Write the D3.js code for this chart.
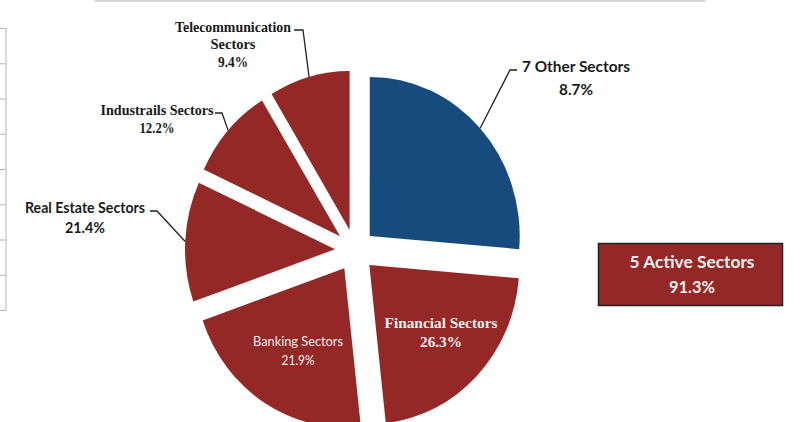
<!DOCTYPE html>
<html lang="en">
<head>
    <meta charset="UTF-8">
    <title>Sector shares - pie</title>
    <script src="https://d3js.org/d3.v7.min.js"></script>
    <style>
        html, body {
            margin: 0;
            background: #fff;
        }
        svg { display: block; }
    </style>
</head>
<body>
    <div id="vis"></div>
    <script>

        // data
        var sectors = ["7 Other Sectors", "Financial Sectors", "Banking Sectors",
                       "Real Estate Sectors", "Industrails Sectors", "Telecommunication Sectors"];
        var labelPct = ["8.7%", "26.3%", "21.9%", "21.4%", "12.2%", "9.4%"];
        // size of each drawn slice, clockwise from 12 o'clock
        var sliceShare = [26.3, 21.9, 21.4, 12.2, 9.4, 8.7];
        var activeName = "5 Active Sectors";
        var activePct = "91.3%";
        var axisTicks = [0, 1, 2, 3, 4, 5, 6, 7, 8];

        /*
         *  DECLARATION BLOCK
         */
        var width = 803, height = 422;
        var red = "#932826", blue = "#174b7d";
        var cx = 355, cy = 250.3, radius = 150, explode = 20, stretch = 1.06;

        var svg = d3.select("#vis")
            .append("svg")
                .attr("width", width)
                .attr("height", height);

        // leftover frame of the neighbouring chart
        svg.append("line")
            .attr("x1", 95).attr("x2", 705)
            .attr("y1", 1).attr("y2", 1)
            .attr("stroke", "#c8c8c8")
            .attr("stroke-width", 1.5);

        var y_scale = d3.scaleLinear()
            .domain([0, 8])
            .range([310, 28]);

        svg.append("g")
            .attr("transform", "translate(5.5,0)")
            .call(d3.axisLeft(y_scale).tickValues(axisTicks).tickSize(6).tickFormat(""))
            .call(function(g) {
                g.selectAll("path, line").attr("stroke", "#b4b4b4");
            });

        // the pie
        var pie = d3.pie().sort(null).value(function(d) { return d; });
        var arc = d3.arc().innerRadius(0).outerRadius(radius);
        var arcs = pie(sliceShare);

        var pieG = svg.append("g")
            .attr("transform", "translate(" + cx + "," + cy + ") scale(1," + stretch + ")");

        function mid(d) { return (d.startAngle + d.endAngle) / 2; }

        pieG.selectAll("path")
            .data(arcs)
            .enter().append("path")
                .attr("d", arc)
                .attr("fill", function(d, i) { return i === 0 ? blue : red; })
                .attr("transform", function(d) {
                    var a = mid(d);
                    return "translate(" + (Math.sin(a) * explode) + "," + (-Math.cos(a) * explode) + ")";
                });

        // point on the outer rim at the middle of a slice, in page coordinates
        function rimPoint(d) {
            var a = mid(d), r = radius + explode;
            return [cx + Math.sin(a) * r, cy - Math.cos(a) * r * stretch];
        }

        // label placement (Excel style, hand placed)
        var sansB = "Lato, 'Open Sans', sans-serif";
        var serif = "'Liberation Serif', 'DejaVu Serif', serif";
        var layout = [
            {x: 576, y: [72, 95], size: 16, font: sansB, weight: 700, fill: "#1a1a1a", w: [108, 34], elbow: [510, 70], end: [517, 70]},
            {x: 441, y: [328, 347], size: 15, font: serif, weight: 700, fill: "#f4eeee", w: [113, 42]},
            {x: 298, y: [346, 365], size: 13, font: sansB, weight: 400, fill: "#f4eeee", w: [90, 33]},
            {x: 85, y: [213, 233], size: 15, font: sansB, weight: 700, fill: "#1a1a1a", w: [120, 40], elbow: [157, 211], end: [150, 211]},
            {x: 157, y: [115, 133], size: 14, font: serif, weight: 700, fill: "#1a1a1a", w: [113, 35], elbow: [222, 113], end: [215, 113]},
            {x: 233, y: [32, 49, 67], size: 14.5, font: serif, weight: 700, fill: "#1a1a1a", w: [116, 45, 30], elbow: [303, 30], end: [294, 30], wrap: true}
        ];

        arcs.forEach(function(d, i) {
            var L = layout[i];
            var lines = L.wrap ? sectors[i].split(" ") : [sectors[i]];
            lines.push(labelPct[i]);

            if (L.elbow) {
                var p = rimPoint(d);
                svg.append("polyline")
                    .attr("points", [p, L.elbow, L.end].map(function(q) { return q.join(","); }).join(" "))
                    .attr("fill", "none")
                    .attr("stroke", "#222")
                    .attr("stroke-width", 1.3);
            }

            lines.forEach(function(t, j) {
                svg.append("text")
                    .attr("x", L.x)
                    .attr("y", L.y[j])
                    .attr("text-anchor", "middle")
                    .attr("font-family", L.font)
                    .attr("font-weight", L.weight)
                    .attr("font-size", L.size)
                    .attr("fill", L.fill)
                    .attr("textLength", L.w[j])
                    .attr("lengthAdjust", "spacingAndGlyphs")
                    .text(t);
            });
        });

        // summary box
        svg.append("rect")
            .attr("x", 598.5).attr("y", 243.5)
            .attr("width", 184).attr("height", 62)
            .attr("fill", red)
            .attr("stroke", "#222")
            .attr("stroke-width", 1.5);

        [[activeName, 268, 125], [activePct, 293, 46]].forEach(function(r) {
            svg.append("text")
                .attr("x", 692)
                .attr("y", r[1])
                .attr("text-anchor", "middle")
                .attr("font-family", sansB)
                .attr("font-weight", 700)
                .attr("font-size", 17)
                .attr("fill", "#f4eeee")
                .attr("textLength", r[2])
                .attr("lengthAdjust", "spacingAndGlyphs")
                .text(r[0]);
        });

    </script>
</body>
</html>
